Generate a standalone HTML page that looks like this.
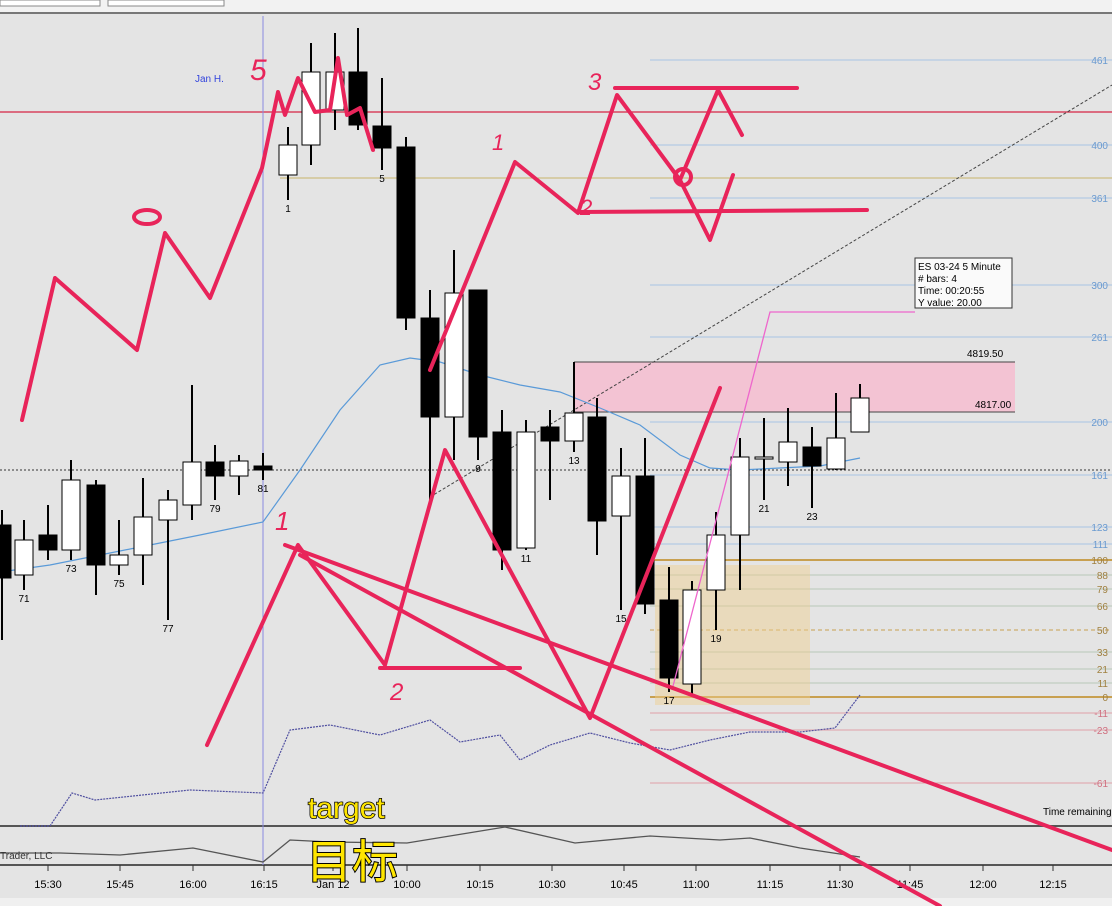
<!DOCTYPE html>
<html><head><meta charset="utf-8"><style>
html,body{margin:0;padding:0;background:#e4e4e4;}
svg{display:block;font-family:"Liberation Sans",Arial,sans-serif;}
</style></head><body>
<svg id="chart" width="1112" height="906" viewBox="0 0 1112 906" xmlns="http://www.w3.org/2000/svg">
<rect x="0" y="0" width="1112" height="12" fill="#f2f2f2"/>
<rect x="0" y="0" width="100" height="6" fill="#fff" stroke="#888"/>
<rect x="108" y="0" width="116" height="6" fill="#fff" stroke="#888"/>
<line x1="0" y1="13" x2="1112" y2="13" stroke="#777" stroke-width="2"/>
<rect x="0" y="16" width="1112" height="810" fill="#e4e4e4"/>
<line x1="0" y1="826" x2="1112" y2="826" stroke="#555" stroke-width="2"/>
<rect x="0" y="828" width="1112" height="36" fill="#e4e4e4"/>
<line x1="0" y1="865" x2="1112" y2="865" stroke="#555" stroke-width="2"/>
<g id="fib"></g>
<rect x="655" y="565" width="155" height="140" fill="#f0cf8c" opacity="0.45"/>
<rect x="574" y="362" width="441" height="50" fill="#f3c3d3"/>
<line x1="574" y1="362" x2="1015" y2="362" stroke="#444"/>
<line x1="574" y1="412" x2="1015" y2="412" stroke="#444"/>
<line x1="574" y1="362" x2="574" y2="412" stroke="#444"/>
<text x="967" y="357" font-size="10">4819.50</text>
<text x="975" y="408" font-size="10">4817.00</text>
<line x1="0" y1="112" x2="1112" y2="112" stroke="#d8455e" stroke-width="1.5"/>
<line x1="280" y1="178" x2="1112" y2="178" stroke="#c9b36a"/>
<line x1="263" y1="16" x2="263" y2="865" stroke="#8a8ae0"/>
<line x1="0" y1="470" x2="1112" y2="470" stroke="#333" stroke-dasharray="2,2"/>
<line x1="430" y1="497" x2="1112" y2="85" stroke="#444" stroke-dasharray="3,2"/>
<text x="195" y="82" font-size="10" fill="#3344dd">Jan H.</text>
<g id="ind"></g>
<g id="candles"></g>
<polyline points="672,690 770,312 915,312" fill="none" stroke="#ee66cc" stroke-width="1.3"/>
<g>
<rect x="915" y="258" width="97" height="50" fill="#fafafa" stroke="#333"/>
<text x="918" y="270" font-size="10">ES 03-24 5 Minute</text>
<text x="918" y="282" font-size="10"># bars:    4</text>
<text x="918" y="294" font-size="10">Time:      00:20:55</text>
<text x="918" y="306" font-size="10">Y value:  20.00</text>
</g>
<text x="1043" y="815" font-size="10">Time remaining</text>
<text x="0" y="859" font-size="10" fill="#333">Trader, LLC</text>
<g id="xaxis"></g>
<rect x="0" y="898" width="1112" height="8" fill="#f0f0f0"/>
<g id="draw" fill="none" stroke="#e8245a" stroke-width="4" stroke-linecap="round" stroke-linejoin="round">
<polyline points="22,420 55,278 137,350 165,233 210,298 262,168 278,92 285,115 298,78 315,112 330,110 338,58 347,115 360,108 373,150"/>
<polyline points="430,370 515,162 578,213 617,95 680,180 718,90 742,135"/>
<line x1="615" y1="88" x2="797" y2="88"/>
<line x1="578" y1="212" x2="867" y2="210"/>
<polyline points="680,180 710,240 733,175"/>
<circle cx="683" cy="177" r="8"/>
<polyline points="207,745 298,545 385,665 445,450 590,718 720,388"/>
<line x1="285" y1="545" x2="1112" y2="850"/>
<line x1="300" y1="555" x2="940" y2="906"/>
<line x1="380" y1="668" x2="520" y2="668"/>
<ellipse cx="147" cy="217" rx="13" ry="7"/>
</g>
<g fill="#e8245a" font-size="30" font-style="italic">
<text x="250" y="80">5</text><text x="492" y="150" font-size="22">1</text><text x="580" y="215" font-size="22">2</text><text x="588" y="90" font-size="24">3</text><text x="390" y="700" font-size="24">2</text><text x="275" y="530" font-size="26">1</text>
</g>
<text x="308" y="818" font-size="30" fill="#ffe600" stroke="#000" stroke-width="1.5" paint-order="stroke">target</text>
<text x="306" y="878" font-size="46" font-family="'Noto Sans CJK SC',sans-serif" fill="#ffe600" stroke="#000" stroke-width="2" paint-order="stroke">目标</text>
</svg>
<script>
const barX=[2,24,48,71,96,119,143,168,192,215,239,263,288,311,335,358,382,406,430,454,478,502,526,550,574,597,621,645,669,692,716,740,764,788,812,836,860];
const opens=[4811.35,4808.85,4810.85,4810.1,4813.35,4809.35,4809.85,4811.6,4812.35,4814.5,4813.8,4814.3,4828.85,4830.35,4832.1,4834.0,4831.3,4830.25,4821.7,4816.75,4823.1,4816.0,4810.2,4816.25,4815.55,4816.75,4811.8,4813.8,4807.6,4803.4,4808.1,4810.85,4814.75,4814.5,4815.25,4814.15,4816.0];
const closes=[4808.7,4810.6,4810.1,4813.6,4809.35,4809.85,4811.75,4812.6,4814.5,4813.8,4814.55,4814.1,4830.35,4834.0,4834.0,4831.35,4830.2,4821.7,4816.75,4822.95,4815.75,4810.1,4816.0,4815.55,4816.95,4811.55,4813.8,4807.4,4803.7,4808.1,4810.85,4814.75,4814.75,4815.5,4814.3,4815.7,4817.7];
const highs=[4812.1,4811.6,4812.35,4814.6,4813.6,4811.6,4813.7,4813.1,4818.35,4815.35,4814.85,4814.95,4831.25,4835.45,4835.95,4836.2,4833.7,4830.75,4823.1,4825.1,4823.1,4817.1,4816.6,4817.1,4819.5,4817.7,4815.2,4815.7,4809.25,4808.55,4812.0,4815.7,4816.7,4817.2,4816.25,4817.95,4818.4];
const lows=[4805.6,4808.1,4809.6,4809.6,4807.85,4808.85,4808.35,4806.6,4811.6,4812.6,4812.85,4813.6,4827.6,4829.35,4831.1,4831.1,4829.1,4821.1,4812.35,4814.6,4814.6,4809.1,4810.1,4812.6,4815.0,4809.85,4807.1,4806.9,4803.0,4802.9,4806.1,4808.1,4812.6,4813.3,4812.2,4814.1,4816.0];
const barLabels=[[1,"71"],[3,"73"],[5,"75"],[7,"77"],[9,"79"],[11,"81"],[12,"1"],[16,"5"],[20,"9"],[22,"11"],[24,"13"],[26,"15"],[28,"17"],[30,"19"],[32,"21"],[34,"23"]];
const timeLabels=["15:30","15:45","16:00","16:15","Jan 12","10:00","10:15","10:30","10:45","11:00","11:15","11:30","11:45","12:00","12:15"];
const timeX=[48,120,193,264,333,407,480,552,624,696,770,840,910,983,1053];
const fibLevels=["461","400","361","300","261","200","161","123","111","100","88","79","66","50","33","21","11","0","-11","-23","-61"];
const fibY=[60,145,198,285,337,422,475,527,544,560,575,589,606,630,652,669,683,697,713,730,783];
const maX=[0,50,100,150,200,263,300,340,380,410,440,480,520,560,600,640,680,710,740,780,820,860];
const maY=[4809.0,4809.35,4809.85,4810.35,4810.85,4811.5,4814.1,4817.1,4819.35,4819.7,4819.5,4818.85,4818.35,4818.0,4817.2,4816.35,4814.85,4814.2,4814.1,4814.2,4814.3,4814.7];
const indX=[20,50,72,95,190,263,290,330,380,430,460,500,520,550,590,630,670,710,750,800,835,860];
const indV=[0,0,33,26,36,33,96,101,91,106,84,91,66,81,93,83,76,86,94,94,98,131];
const lowX=[0,60,120,193,263,290,330,407,505,575,650,720,750,800,860];
const lowV=[12,12,10,17,3,25,23,22,38,22,29,25,27,17,8];
const NS='http://www.w3.org/2000/svg';
const y=p=>412-(p-4817)*20;
const indY=v=>826-v;
const lowY=v=>865-v;
function mk(t,a,parent){const e=document.createElementNS(NS,t);for(const k in a)e.setAttribute(k,a[k]);parent.appendChild(e);return e;}
const fib=document.getElementById('fib');
fibLevels.forEach((l,i)=>{
 const col=(i>=9&&i<=17)?(l==="100"||l==="0"||l==="50"?"#c8a050":"#b8c8b8"):(i>=18?"#e0a0a8":"#a8c4e4");
 const ln=mk('line',{x1:650,y1:fibY[i],x2:1112,y2:fibY[i],stroke:col,'stroke-width':(l==="100"||l==="0")?2:1,'stroke-dasharray':l==="50"?"4,3":"none"},fib);
 
 
 const t=mk('text',{x:1108,y:fibY[i]+4,'font-size':10,'text-anchor':'end',fill:(i>=9&&i<=17)?"#a08040":(i>=18?"#d07080":"#6a9ad0")},fib);
 t.textContent=l;
 
 
});
const ind=document.getElementById('ind');
const ma=mk('polyline',{points:maX.map((x,i)=>x+','+y(maY[i])).join(' '),fill:'none',stroke:'#5a9ad8','stroke-width':1.2},ind);


const pi=mk('polyline',{points:indX.map((x,i)=>x+','+indY(indV[i])).join(' '),fill:'none',stroke:'#5050a0','stroke-width':1.2,'stroke-dasharray':'2,1'},ind);


const lo=mk('polyline',{points:lowX.map((x,i)=>x+','+lowY(lowV[i])).join(' '),fill:'none',stroke:'#555','stroke-width':1.3},ind);


const cg=document.getElementById('candles');
barX.forEach((x,i)=>{
 const o=opens[i],c=closes[i];
 const w=mk('line',{x1:x,y1:y(highs[i]),x2:x,y2:y(lows[i]),stroke:'#000','stroke-width':2},cg);
 
 
 const top=y(Math.max(o,c)),h=Math.max(2,Math.abs(y(o)-y(c)));
 const b=mk('rect',{x:x-9,y:top,width:18,height:h,fill:c>=o?'#fff':'#000',stroke:'#000','stroke-width':1},cg);
 
 
});
barLabels.forEach(([i,l])=>{
 const t=mk('text',{x:barX[i],y:y(lows[i])+12,'font-size':10,'text-anchor':'middle'},cg);
 t.textContent=l;
 
 
});
const xa=document.getElementById('xaxis');
timeLabels.forEach((l,i)=>{
 const tk=mk('line',{x1:timeX[i],y1:865,x2:timeX[i],y2:871,stroke:'#333'},xa);
 
 
 const t=mk('text',{x:timeX[i],y:888,'font-size':11,'text-anchor':'middle'},xa);
 t.textContent=l;
 
 
});
</script>
</body></html>
